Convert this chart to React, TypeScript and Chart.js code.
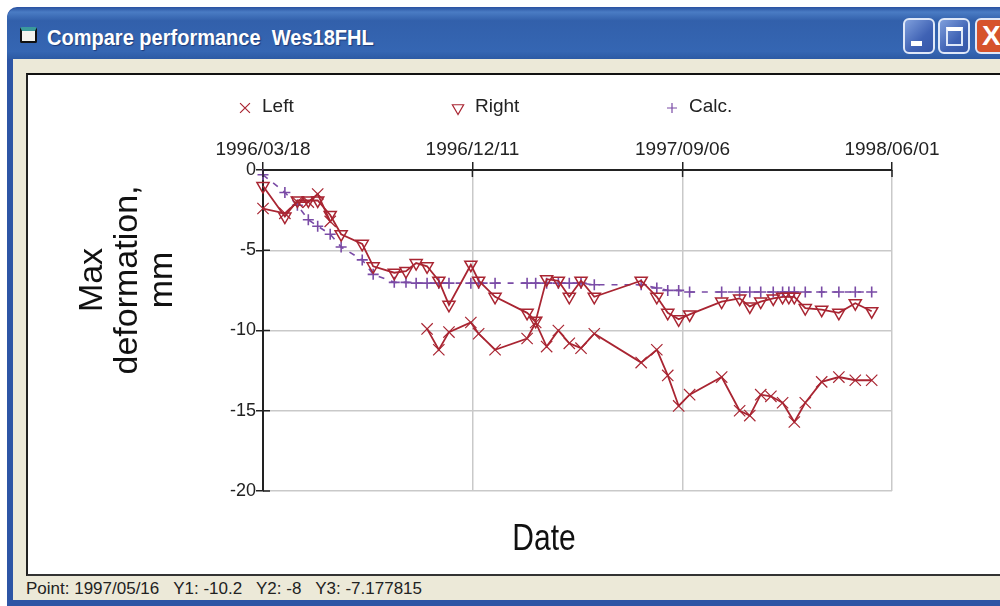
import React, { useEffect, useRef } from "react";
import { Chart, registerables } from "chart.js";
import { drawPoint } from "chart.js/helpers";

Chart.register(...registerables);

const xTickDays = [0, 268, 537, 805];
const xTickLabels = ["1996/03/18", "1996/12/11", "1997/09/06", "1998/06/01"];
const yTicks = [0, -5, -10, -15, -20];

const days = [0, 28, 44, 58, 70, 86, 100, 127, 141, 168, 183, 196, 210, 225, 238, 266, 276, 297, 338, 349, 363, 378, 392, 407, 424, 484, 504, 518, 532, 546, 587, 610, 623, 637, 653, 665, 673, 680, 694, 715, 737, 758, 779];
const leftDays = [0, 28, 44, 58, 70, 86, 100, 127, 141, 168, 183, 196, 210, 225, 238, 266, 276, 297, 338, 349, 363, 378, 392, 407, 424, 484, 504, 518, 532, 546, 587, 610, 623, 637, 650, 665, 680, 694, 715, 737, 758, 779];

const leftValues = [-2.4, -2.7, -2, -2, -1.5, -3.2, null, null, null, null, null, null, -9.9, -11.2, -10.1, -9.5, -10.2, -11.2, -10.5, -9.5, -11, -10, -10.8, -11.1, -10.2, -12, -11.2, -12.8, -14.7, -14, -12.9, -15, -15.3, -14, -14.1, -14.5, -15.7, -14.5, -13.2, -12.9, -13.1, -13.1];
const rightValues = [-1, -2.9, -1.9, -1.9, -1.9, -2.8, -4, -4.6, -6, -6.4, -6.3, -5.8, -6, -6.9, -8.4, -5.9, -6.9, -7.9, -8.9, -9.4, -6.8, -6.9, -7.9, -6.9, -7.9, -6.9, -7.9, -8.9, -9.3, -9, -8.2, -8, -8.5, -8.2, -8, -7.9, -7.9, -7.9, -8.6, -8.7, -8.9, -8.3, -8.8];
const calcValues = [-0.3, -1.4, -2.2, -3.1, -3.5, -4, -4.8, -5.6, -6.5, -7, -7, -7.05, -7.05, -7.05, -7.05, -7.05, -7.05, -7.05, -7.05, -7.05, -7.05, -7.05, -7.05, -7.05, -7.15, -7.15, -7.35, -7.5, -7.5, -7.6, -7.6, -7.6, -7.6, -7.6, -7.6, -7.6, -7.6, -7.6, -7.6, -7.6, -7.6, -7.6, -7.6];

const seriesNames = ["Left", "Right", "Calc."];
const yTitleLines = ["Max", "deformation,", "mm"];
const xTitle = "Date";
const windowTitle = "Compare performance  Wes18FHL";
const statusText = "Point: 1997/05/16   Y1: -10.2   Y2: -8   Y3: -7.177815";

const RED = "#a92532";
const PURPLE = "#7a4ba6";
const FONT = '"Liberation Sans", Arial, sans-serif';

const toPoints = (xs: number[], values: (number | null)[]) => xs.map((d, i) => ({ x: d, y: values[i] }));

const decorations = {
  id: "decorations",
  afterDraw(chart: any) {
    const { ctx, scales } = chart;
    ctx.save();
    ctx.strokeStyle = "#222";
    ctx.lineWidth = 1.5;
    const top = scales.y.getPixelForValue(0);
    const left = scales.x.getPixelForValue(0);
    xTickDays.forEach((d) => {
      const p = scales.x.getPixelForValue(d);
      ctx.beginPath();
      ctx.moveTo(p, top);
      ctx.lineTo(p, top + 7);
      ctx.stroke();
    });
    yTicks.forEach((v) => {
      const p = scales.y.getPixelForValue(v);
      ctx.beginPath();
      ctx.moveTo(left, p);
      ctx.lineTo(left + 7, p);
      ctx.stroke();
    });
    // legend
    ctx.textBaseline = "middle";
    ctx.textAlign = "left";
    ctx.font = `19px ${FONT}`;
    const legendX = [245, 458, 672];
    const legendRadius = [7, 6.5, 5];
    chart.data.datasets.forEach((ds: any, i: number) => {
      ctx.strokeStyle = ds.borderColor;
      ctx.fillStyle = "rgba(0,0,0,0)";
      ctx.lineWidth = 1.2;
      drawPoint(ctx, { pointStyle: ds.pointStyle, rotation: ds.pointRotation || 0, radius: legendRadius[i], borderWidth: 1.2 }, legendX[i], 108);
      ctx.fillStyle = "#222";
      ctx.fillText(seriesNames[i], legendX[i] + 17, 107);
    });
    // axis titles
    ctx.fillStyle = "#111";
    ctx.textAlign = "center";
    ctx.textBaseline = "alphabetic";
    ctx.save();
    ctx.translate(544, 550);
    ctx.scale(1, 1.25);
    ctx.font = `30px ${FONT}`;
    ctx.fillText(xTitle, 0, 0);
    ctx.restore();
    ctx.font = `34px ${FONT}`;
    ctx.translate(137, 280);
    ctx.rotate(-Math.PI / 2);
    yTitleLines.forEach((line, i) => ctx.fillText(line, 0, (i - 1) * 35));
    ctx.restore();
  },
};

export default function App() {
  const ref = useRef<HTMLCanvasElement>(null);
  useEffect(() => {
    const chart = new Chart(ref.current!, {
      type: "line",
      plugins: [decorations],
      data: {
        datasets: [
          { label: seriesNames[0], data: toPoints(leftDays, leftValues), borderColor: RED, borderWidth: 1.8, pointStyle: "crossRot", pointRadius: 8, pointBorderWidth: 1.2, pointBorderColor: RED, backgroundColor: "transparent", tension: 0, spanGaps: false, clip: false },
          { label: seriesNames[1], data: toPoints(days, rightValues), borderColor: RED, borderWidth: 1.8, pointStyle: "triangle", pointRotation: 180, pointRadius: 7, pointBorderWidth: 1.5, pointBorderColor: RED, pointBackgroundColor: "transparent", backgroundColor: "transparent", tension: 0, clip: false },
          { label: seriesNames[2], data: toPoints(days, calcValues), borderColor: PURPLE, borderWidth: 1.6, borderDash: [6, 7], pointStyle: "cross", pointRadius: 5.5, pointBorderWidth: 1.6, pointBorderColor: PURPLE, backgroundColor: "transparent", tension: 0, clip: false },
        ] as any,
      },
      options: {
        animation: false,
        responsive: false,
        parsing: false as any,
        layout: { padding: { left: 0, top: 0, right: 108, bottom: 115 } },
        plugins: { legend: { display: false }, tooltip: { enabled: false } },
        scales: {
          x: {
            type: "linear",
            position: "top",
            min: 0,
            max: 805,
            afterBuildTicks: (s: any) => { s.ticks = xTickDays.map((value) => ({ value })); },
            afterFit: (s: any) => { s.height = 170; },
            ticks: {
              autoSkip: false, maxRotation: 0, padding: 1, color: "#222",
              font: { family: FONT, size: 19 },
              callback: (v: any) => xTickLabels[xTickDays.indexOf(v)] ?? "",
            },
            grid: { color: "#c9c9c9", lineWidth: 1.5, tickColor: "#222", tickLength: 8 },
            border: { color: "#222", width: 2 },
          },
          y: {
            type: "linear",
            min: -20,
            max: 0,
            afterBuildTicks: (s: any) => { s.ticks = yTicks.map((value) => ({ value })); },
            afterFit: (s: any) => { s.width = 263; },
            ticks: { padding: 0, color: "#222", font: { family: FONT, size: 18 } },
            grid: { color: "#c9c9c9", lineWidth: 1.5, tickColor: "#222", tickLength: 7 },
            border: { color: "#222", width: 2 },
          },
        },
      },
    } as any);
    return () => chart.destroy();
  }, []);

  const abs = (l: number, t: number, w: number, h: number, extra: React.CSSProperties = {}): React.CSSProperties => ({
    position: "absolute", left: l, top: t, width: w, height: h, boxSizing: "border-box", ...extra,
  });
  const btn: React.CSSProperties = { border: "2px solid #dfe8f8", borderRadius: 6 };

  return (
    <div style={{ position: "fixed", left: 0, top: 0, width: 1000, height: 606, overflow: "hidden", background: "#fff", fontFamily: FONT }}>
      <div style={abs(7, 7, 993, 599, { background: "#2d55a5", borderTopLeftRadius: 10 })} />
      <div style={abs(7, 8, 993, 51, { background: "linear-gradient(#2f5aa6 0%, #4a7cc4 8%, #3260ab 25%, #3566b3 85%, #2c5aa4 100%)", borderTopLeftRadius: 10 })} />
      <div style={abs(13, 59, 987, 541, { background: "#ece9d8" })} />
      <div style={abs(26, 73, 974, 503, { background: "#fff", borderTop: "2px solid #111", borderLeft: "2px solid #222", borderBottom: "2px solid #333" })} />
      <div style={abs(20, 27, 17, 16, { background: "#f4f4ee", border: "2px solid #111", borderTop: "4px solid #3a9a9c", borderRadius: 2 })} />
      <div style={abs(47, 24, 400, 28, { color: "#fff", fontWeight: 700, fontSize: 22, lineHeight: "28px", whiteSpace: "pre", transform: "scaleX(0.91)", transformOrigin: "left center", textShadow: "1px 1px 1px #1c3a78" })}>{windowTitle}</div>
      <div style={abs(903, 18, 32, 36, { ...btn, background: "linear-gradient(135deg, #7f9fdc, #3f62b4 60%, #3557a8)" })}>
        <div style={abs(6, 21, 11, 5, { background: "#fff" })} />
      </div>
      <div style={abs(938, 18, 32, 36, { ...btn, background: "linear-gradient(135deg, #7f9fdc, #3f62b4 60%, #3557a8)" })}>
        <div style={abs(6, 7, 17, 19, { border: "2px solid #dfe8f8", borderTop: "4px solid #fff" })} />
      </div>
      <div style={abs(975, 18, 40, 36, { ...btn, background: "#d6532c", color: "#fff", fontWeight: 700, fontSize: 28, lineHeight: "32px", paddingLeft: 5 })}>X</div>
      <div style={abs(26, 578, 700, 22, { color: "#222", fontSize: 17, lineHeight: "22px", whiteSpace: "pre", transform: "scaleX(1)", transformOrigin: "left center" })}>{statusText}</div>
      <canvas ref={ref} width={1000} height={606} style={{ position: "absolute", left: 0, top: 0, width: 1000, height: 606 }} />
    </div>
  );
}
